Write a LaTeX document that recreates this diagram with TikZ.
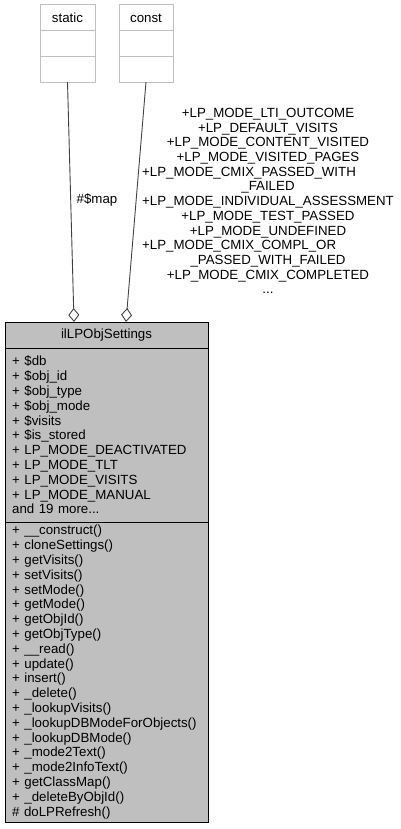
\documentclass[tikz,border=0pt]{standalone}
\usepackage{fontspec}
\setmainfont{Liberation Sans}
\usepackage{tikz}
\usetikzlibrary{
  arrows.meta,
  positioning
}
\definecolor{dxFill}{HTML}{BFBFBF}
\definecolor{dxFrame}{HTML}{BFBFBF}
\definecolor{dxEdge}{HTML}{404040}
% first line of a wrapped label keeps the width of the widest line
\newcommand{\padwide}[1]{\rlap{#1}\hphantom{+LP\_MODE\_INDIVIDUAL\_ASSESSMENT}}
\tikzset{
  dxfont/.style={font=\fontsize{13.3}{14.8}\selectfont},
  tmplpart/.style={
    draw=dxFrame, fill=white, line width=1pt, minimum height=25.7pt,
    minimum width=55pt, inner sep=0pt, outer sep=0pt, dxfont
  },
  clspart/.style={
    draw=black, fill=dxFill, line width=1pt, minimum width=203pt,
    inner sep=0pt, outer sep=0pt, dxfont
  },
  members/.style={dxfont, align=left, text width=189pt, inner sep=0pt, anchor=west},
  usage/.style={-{Diamond[open, length=14pt, width=11pt]}, draw=dxEdge, line width=0.9pt},
  edgetag/.style={font=\fontsize{13.3}{14.7}\selectfont, align=center, inner sep=0pt}
}
\begin{document}
\begin{tikzpicture}[x=1pt, y=-1pt]
  \useasboundingbox (0,0) rectangle (401,829);
  % template boxes
  \node[tmplpart] (static) at (67.5,17.8) {static};
  \node[tmplpart, below=0pt of static] (staticmid) {};
  \node[tmplpart, below=0pt of staticmid] (staticbot) {};
  \node[tmplpart, minimum width=54pt] (const) at (146,17.8) {const};
  \node[tmplpart, minimum width=54pt, below=0pt of const] (constmid) {};
  \node[tmplpart, minimum width=54pt, below=0pt of constmid] (constbot) {};
  % the class
  \node[clspart, minimum height=26pt] (cls) at (106.5,335) {ilLPObjSettings};
  \node[clspart, minimum height=174pt, below=0pt of cls] (clsattr) {};
  \node[clspart, minimum height=300pt, below=0pt of clsattr] (clsops) {};
  \node[members] (attrlist) at ([xshift=7pt]clsattr.west) {%
    + \$db\\
    + \$obj\_id\\
    + \$obj\_type\\
    + \$obj\_mode\\
    + \$visits\\
    + \$is\_stored\\
    + LP\_MODE\_DEACTIVATED\\
    + LP\_MODE\_TLT\\
    + LP\_MODE\_VISITS\\
    + LP\_MODE\_MANUAL\\
    and 19 more...};
  \node[members] (oplist) at ([xshift=7pt]clsops.west) {%
    + \_\_construct()\\
    + cloneSettings()\\
    + getVisits()\\
    + setVisits()\\
    + setMode()\\
    + getMode()\\
    + getObjId()\\
    + getObjType()\\
    + \_\_read()\\
    + update()\\
    + insert()\\
    + \_delete()\\
    + \_lookupVisits()\\
    + \_lookupDBModeForObjects()\\
    + \_lookupDBMode()\\
    + \_mode2Text()\\
    + \_mode2InfoText()\\
    + getClassMap()\\
    + \_deleteByObjId()\\
    \# doLPRefresh()};
  % usage edges
  \draw[usage] (staticbot.south) -- ([xshift=-32.5pt]cls.north);
  \draw[usage] (constbot.south) -- ([xshift=19.5pt]cls.north);
  \node[edgetag] (maptag) at (97,200) {\#\$map};
  \node[edgetag] (constlist) at (268,201) {%
    +LP\_MODE\_LTI\_OUTCOME\\
    +LP\_DEFAULT\_VISITS\\
    +LP\_MODE\_CONTENT\_VISITED\\
    +LP\_MODE\_VISITED\_PAGES\\
    \padwide{+LP\_MODE\_CMIX\_PASSED\_WITH}\\
    \_FAILED\\
    +LP\_MODE\_INDIVIDUAL\_ASSESSMENT\\
    +LP\_MODE\_TEST\_PASSED\\
    +LP\_MODE\_UNDEFINED\\
    \padwide{+LP\_MODE\_CMIX\_COMPL\_OR}\\
    \_PASSED\_WITH\_FAILED\\
    +LP\_MODE\_CMIX\_COMPLETED\\
    ...};
\end{tikzpicture}
\end{document}
